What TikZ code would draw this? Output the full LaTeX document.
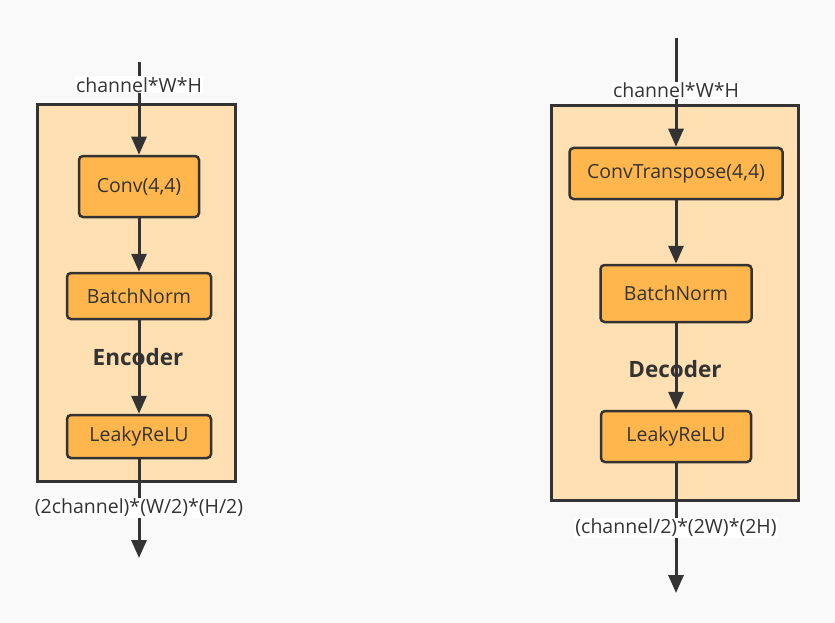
\documentclass[tikz,border=0pt]{standalone}
\usepackage{fontspec}
\setmainfont{Open Sans}
\usetikzlibrary{arrows.meta}
\definecolor{peach}{HTML}{FFE0B2}
\definecolor{amber}{HTML}{FFB74D}
\definecolor{ink}{HTML}{333333}
\definecolor{paper}{HTML}{F9F9F9}
\tikzset{
  block/.style={draw=ink, line width=3pt, fill=peach},
  layer/.style={draw=ink, line width=2.5pt, fill=amber, rounded corners=4pt,
    inner sep=0pt, text=ink, font=\fontsize{19.5}{22}\selectfont},
  lab/.style={fill=white, inner sep=1pt, text=ink, font=\fontsize{19.5}{22}\selectfont},
  title/.style={text=ink, font=\fontsize{22.5}{26}\selectfont\bfseries},
  flow/.style={draw=ink, line width=3pt, -{Triangle[length=18pt,width=15pt]}}
}
\begin{document}
\begin{tikzpicture}[x=1pt,y=-1pt]
    \fill[paper] (0,0) rectangle (835,623);
    % encoder
    \node (enc) at (136,293) [block, minimum width=198pt, minimum height=376pt] {};
    \node (conv) at (139,186.5) [layer, minimum width=120pt, minimum height=61pt] {Conv(4,4)};
    \node (ebn) at (139,296) [layer, minimum width=144pt, minimum height=46pt] {BatchNorm};
    \node (erelu) at (139,436.5) [layer, minimum width=144pt, minimum height=43pt] {LeakyReLU};
    \node (encname) at (138,357) [title] {Encoder};
    \coordinate (ein) at (139,62); \coordinate (eout) at (139,558);
    \draw[flow] (ein) -- node[lab, pos=.245] {channel*W*H} (conv);
    \draw[flow] (conv) -- (ebn); \draw[flow] (ebn) -- (erelu);
    \draw[flow] (erelu) -- node[lab, pos=.49] {(2channel)*(W/2)*(H/2)} (eout);
    % decoder
    \node (dec) at (674.5,303) [block, minimum width=247pt, minimum height=394pt] {};
    \node (convt) at (676,173.5) [layer, minimum width=213pt, minimum height=51pt] {ConvTranspose(4,4)};
    \node (dbn) at (676,293.5) [layer, minimum width=151pt, minimum height=57pt] {BatchNorm};
    \node (drelu) at (676,436.5) [layer, minimum width=150pt, minimum height=51pt] {LeakyReLU};
    \node (decname) at (675,369) [title] {Decoder};
    \coordinate (din) at (676,38); \coordinate (dout) at (676,593);
    \draw[flow] (din) -- node[lab, pos=.48] {channel*W*H} (convt);
    \draw[flow] (convt) -- (dbn); \draw[flow] (dbn) -- (drelu);
    \draw[flow] (drelu) -- node[lab, pos=.5] {(channel/2)*(2W)*(2H)} (dout);
\end{tikzpicture}
\end{document}
